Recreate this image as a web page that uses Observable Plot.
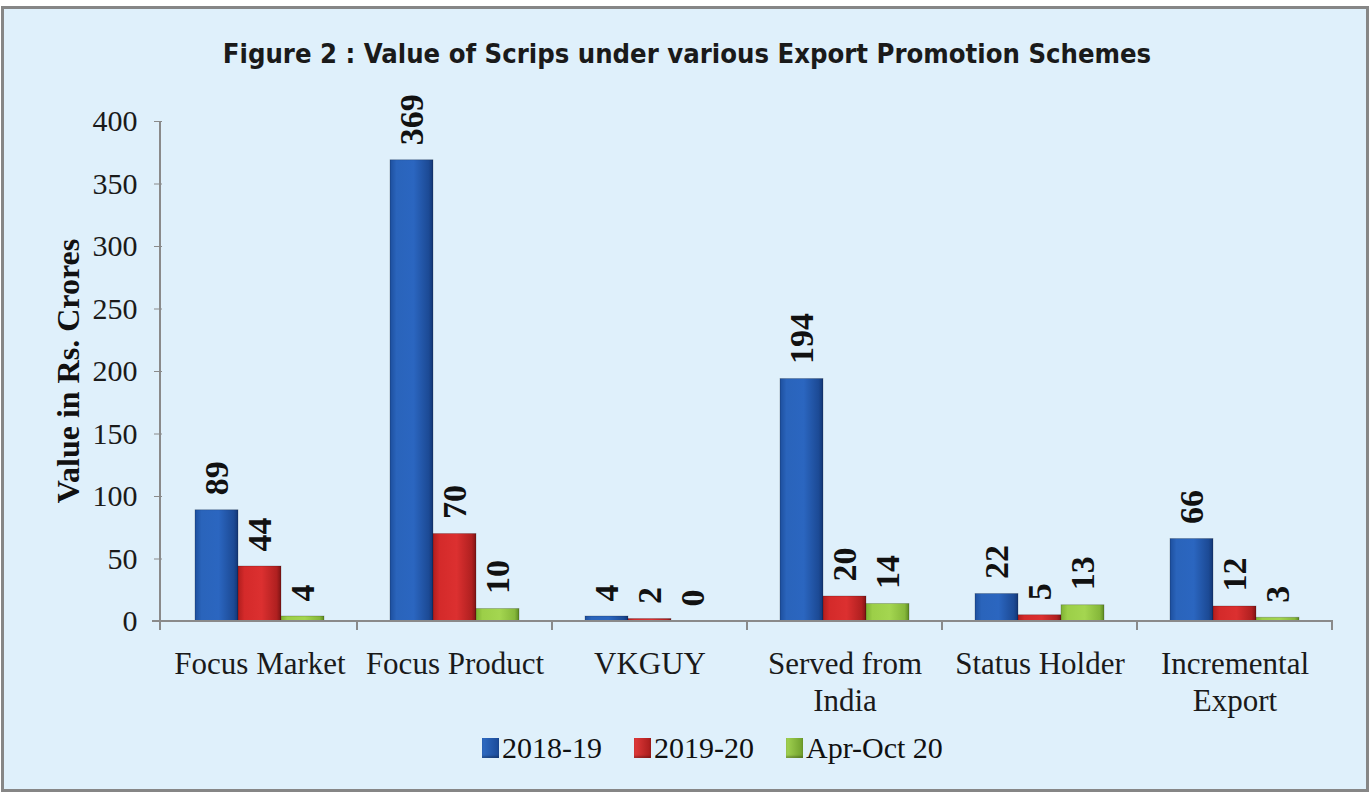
<!DOCTYPE html>
<html><head><meta charset="utf-8">
<script src="https://cdn.jsdelivr.net/npm/d3@7"></script>
<script src="https://cdn.jsdelivr.net/npm/@observablehq/plot@0.6"></script>
<style>
html,body{margin:0;padding:0;background:#fff;width:1372px;height:792px;overflow:hidden;}
#frame{position:absolute;left:1px;top:6px;width:1368px;height:786px;border:3px solid #868686;background:#dff0fb;box-sizing:border-box;}
#title{position:absolute;left:0;width:1374px;top:37px;text-align:center;font-family:"Liberation Sans Narrow","DejaVu Sans Condensed",sans-serif;font-weight:bold;font-size:27.2px;color:#1a1a1a;line-height:34px;}
#chart{position:absolute;left:0;top:80px;}
#ytitle{position:absolute;left:68px;top:371px;transform:translate(-50%,-50%) rotate(-90deg);font-family:"Liberation Serif",serif;font-weight:bold;font-size:32px;color:#111;white-space:nowrap;}
#legend{position:absolute;left:482px;top:731px;display:flex;gap:32px;font-family:"Liberation Serif",serif;font-size:30px;line-height:34px;color:#111;}
#legend .item{display:flex;align-items:center;gap:3px;}
#legend .sw{width:17px;height:20px;display:inline-block;box-shadow:inset 0 -2px 2px rgba(0,0,0,0.25);}
</style></head>
<body>
<div id="frame"></div>
<div id="title">Figure 2 : Value of Scrips under various Export Promotion Schemes</div>
<div id="chart"></div>
<div id="ytitle">Value in Rs. Crores</div>
<div id="legend"></div>
<script>
const categories = ["Focus Market", "Focus Product", "VKGUY", "Served from\nIndia", "Status Holder", "Incremental\nExport"];
const series = ["2018-19", "2019-20", "Apr-Oct 20"];
const values2018 = [89, 369, 4, 194, 22, 66];
const values2019 = [44, 70, 2, 20, 5, 12];
const valuesAprOct = [4, 10, 0, 14, 13, 3];
const yTicks = [0, 50, 100, 150, 200, 250, 300, 350, 400];
const seriesFills = ["url(#gBlue)", "url(#gRed)", "url(#gGreen)"];
const legendColors = ["linear-gradient(90deg,#2f6cc4,#1b4a98)", "linear-gradient(90deg,#e23a3a,#a81c1c)", "linear-gradient(90deg,#a3d452,#6f9f2c)"];

const seriesValues = [values2018, values2019, valuesAprOct];
const data = [];
categories.forEach((c, i) => series.forEach((s, j) => data.push({category: c, series: s, value: seriesValues[j][i]})));

const plot = Plot.plot({
  width: 1372,
  height: 660,
  marginLeft: 160,
  marginRight: 39,
  marginTop: 41,
  marginBottom: 119,
  style: {background: "transparent", fontFamily: "'Liberation Serif', serif", color: "#1a1a1a", overflow: "visible"},
  fx: {domain: categories, padding: 0, label: null},
  x: {domain: series, paddingInner: 0, paddingOuter: 0.72, axis: null},
  y: {domain: [0, 400], label: null},
  color: {domain: series, range: seriesFills},
  marks: [
    Plot.axisFx({anchor: "bottom", tickSize: 0, tickPadding: 26, fontSize: 31, lineHeight: 1.2, label: null}),
    Plot.axisY({ticks: yTicks, tickSize: 8, tickPadding: 17, fontSize: 30, label: null, stroke: "#8a8a8a"}),
    Plot.barY(data, {fx: "category", x: "series", y: "value", fill: "series", stroke: "rgba(0,0,0,0.25)", strokeWidth: 0.8}),
    Plot.text(data, {fx: "category", x: "series", y: "value", text: d => String(d.value), rotate: -90, textAnchor: "start", lineAnchor: "middle", dy: -15, fontSize: 34, fontWeight: "bold", fill: "#111"})
  ]
});

// gradients for the bevelled bar look
const svg = d3.select(plot);
const defs = svg.insert("defs", ":first-child");
function grad(id, stops) {
  const g = defs.append("linearGradient").attr("id", id).attr("x1", 0).attr("x2", 1).attr("y1", 0).attr("y2", 0);
  stops.forEach(([o, c]) => g.append("stop").attr("offset", o).attr("stop-color", c));
}
grad("gBlue", [[0, "#1d4f9e"], [0.15, "#2a64bb"], [0.55, "#2b66c0"], [0.9, "#1c4a95"], [1, "#133675"]]);
grad("gRed", [[0, "#b01e1e"], [0.15, "#d42a2a"], [0.55, "#dc3030"], [0.9, "#b02020"], [1, "#7e1414"]]);
grad("gGreen", [[0, "#7fb235"], [0.15, "#9ccf48"], [0.55, "#a4d650"], [0.9, "#86b83a"], [1, "#5d8a22"]]);

// axis lines and category boundary ticks from the library scales
const fx = plot.scale("fx"), y = plot.scale("y");
const y0 = y.apply(0), yTop = y.apply(400);
const xL = fx.range[0], xR = fx.range[1];
const g = svg.append("g").attr("stroke", "#8a8a8a").attr("stroke-width", 2);
g.append("line").attr("x1", xL).attr("x2", xL).attr("y1", yTop).attr("y2", y0 + 9);
g.append("line").attr("x1", xL - 8).attr("x2", xR).attr("y1", y0).attr("y2", y0);
categories.forEach(c => {
  const xb = fx.apply(c) + fx.bandwidth;
  g.append("line").attr("x1", xb).attr("x2", xb).attr("y1", y0).attr("y2", y0 + 9);
});

document.getElementById("chart").appendChild(plot);

const legend = d3.select("#legend");
series.forEach((s, j) => {
  const it = legend.append("div").attr("class", "item");
  it.append("span").attr("class", "sw").style("background", legendColors[j]);
  it.append("span").text(s);
});
</script>
</body></html>
